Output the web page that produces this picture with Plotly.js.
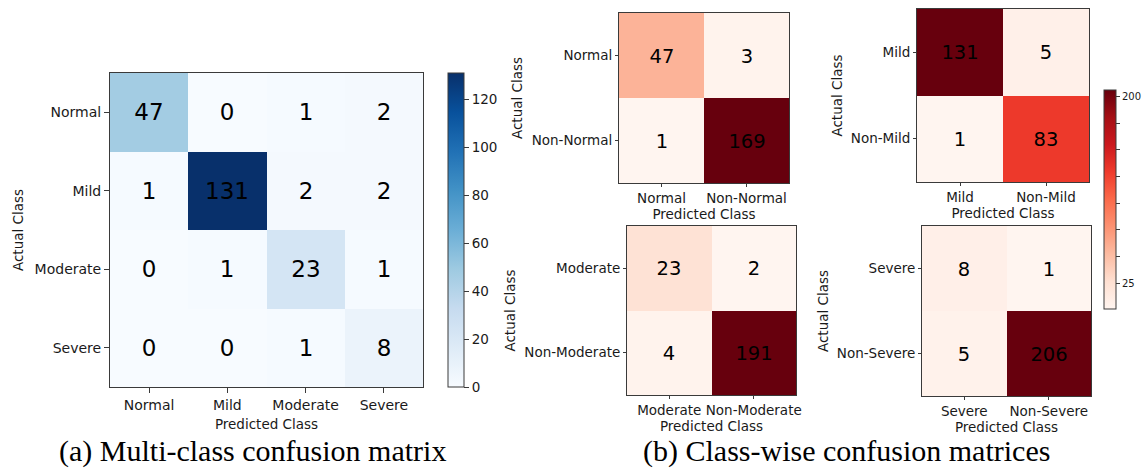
<!DOCTYPE html>
<html>
<head>
<meta charset="utf-8">
<script src="https://cdn.plot.ly/plotly-3.0.1.min.js"></script>
<style>
html,body{margin:0;padding:0;background:#fff;}
#chart{width:1142px;height:468px;}
</style>
</head>
<body>
<div id="chart"></div>
<script>
// ---- data ----
const categories = ['Normal', 'Mild', 'Moderate', 'Severe'];
const multiZ = [
  [47, 0, 1, 2],
  [1, 131, 2, 2],
  [0, 1, 23, 1],
  [0, 0, 1, 8]
];
const normalLabels = ['Normal', 'Non-Normal'];
const normalZ = [[47, 3], [1, 169]];
const mildLabels = ['Mild', 'Non-Mild'];
const mildZ = [[131, 5], [1, 83]];
const moderateLabels = ['Moderate', 'Non-Moderate'];
const moderateZ = [[23, 2], [4, 191]];
const severeLabels = ['Severe', 'Non-Severe'];
const severeZ = [[8, 1], [5, 206]];
const blueTickVals = [0, 20, 40, 60, 80, 100, 120];
const redTickVals = [25, 50, 75, 100, 125, 150, 175, 200];
const redTickText = ['25', '', '', '', '', '', '', '200'];
const xTitle = 'Predicted Class';
const yTitle = 'Actual Class';
const captionA = '(a) Multi-class confusion matrix';
const captionB = '(b) Class-wise confusion matrices';

// ---- styles ----
const W = 1142, H = 468;
const FONT = 'DejaVu Sans, sans-serif';
const TXT = '#1a1a1a';
const LINE = '#3a3a3a';
const blues = [
  [0, '#f7fbff'], [0.125, '#deebf7'], [0.25, '#c6dbef'], [0.375, '#9ecae1'],
  [0.5, '#6baed6'], [0.625, '#4292c6'], [0.75, '#2171b5'], [0.875, '#08519c'], [1, '#08306b']
];
const reds = [
  [0, '#fff5f0'], [0.125, '#fee0d2'], [0.25, '#fcbba1'], [0.375, '#fc9272'],
  [0.5, '#fb6a4a'], [0.625, '#ef3b2c'], [0.75, '#cb181d'], [0.875, '#a50f15'], [1, '#67000d']
];
function dx(a, b) { return [a / W, b / W]; }
function dy(top, bottom) { return [1 - bottom / H, 1 - top / H]; }
function flat(z) { return [].concat(...z); }

function axis(domain, tickSize, titleSize, isY, standoff, ticklen) {
  const a = {
    domain: domain,
    showline: true, mirror: true, linecolor: LINE, linewidth: 1,
    ticks: 'outside', ticklen: ticklen, tickwidth: 1, tickcolor: LINE,
    tickfont: {family: FONT, size: tickSize, color: TXT},
    title: {text: isY ? yTitle : xTitle, font: {family: FONT, size: titleSize, color: TXT}, standoff: standoff},
    showgrid: false, zeroline: false, fixedrange: true, type: 'category'
  };
  if (isY) a.autorange = 'reversed';
  return a;
}

const traces = [];
const layout = {
  width: W, height: H,
  margin: {l: 0, r: 0, t: 0, b: 0},
  paper_bgcolor: '#fff', plot_bgcolor: '#fff',
  showlegend: false,
  annotations: []
};

// left multi-class
traces.push({
  type: 'heatmap', x: categories, y: categories, z: multiZ,
  xaxis: 'x', yaxis: 'y',
  colorscale: blues, zmin: Math.min(...flat(multiZ)), zmax: Math.max(...flat(multiZ)),
  texttemplate: '%{z}', textfont: {family: FONT, size: 23, color: '#000'},
  hoverinfo: 'skip',
  colorbar: {
    x: 448 / W, xanchor: 'left', xref: 'paper',
    y: 1 - 73 / H, yanchor: 'top', yref: 'paper',
    len: 314 / H, lenmode: 'fraction', thickness: 16, thicknessmode: 'pixels',
    outlinewidth: 1, outlinecolor: LINE,
    ticks: 'outside', ticklen: 5, tickcolor: LINE, tickwidth: 1,
    tickvals: blueTickVals, tickfont: {family: FONT, size: 13.5, color: TXT},
    xpad: 0, ypad: 0
  }
});
layout.xaxis = axis(dx(110, 423), 14, 13.5, false, 7, 5);
layout.yaxis = axis(dy(73, 387), 14, 13.5, true, 7, 5);
layout.xaxis.anchor = 'y';
layout.yaxis.anchor = 'x';

// right class-wise
const small = [
  {lab: normalLabels, z: normalZ, xd: dx(619, 789), yd: dy(13, 183)},
  {lab: mildLabels, z: mildZ, xd: dx(917, 1089), yd: dy(9, 182)},
  {lab: moderateLabels, z: moderateZ, xd: dx(627, 796), yd: dy(226, 395)},
  {lab: severeLabels, z: severeZ, xd: dx(922, 1091), yd: dy(226, 396)}
];
small.forEach((s, i) => {
  const n = i + 2;
  const vals = flat(s.z);
  const t = {
    type: 'heatmap', x: s.lab, y: s.lab, z: s.z,
    xaxis: 'x' + n, yaxis: 'y' + n,
    colorscale: reds, zmin: Math.min(...vals), zmax: Math.max(...vals),
    texttemplate: '%{z}', textfont: {family: FONT, size: 19.5, color: '#000'},
    hoverinfo: 'skip', showscale: i === 3
  };
  if (i === 3) {
    t.colorbar = {
      x: 1104 / W, xanchor: 'left', xref: 'paper',
      y: 1 - 90 / H, yanchor: 'top', yref: 'paper',
      len: 219 / H, lenmode: 'fraction', thickness: 12, thicknessmode: 'pixels',
      outlinewidth: 1, outlinecolor: LINE,
      ticks: 'outside', ticklen: 4, tickcolor: LINE, tickwidth: 1,
      tickvals: redTickVals, ticktext: redTickText,
      tickfont: {family: FONT, size: 10, color: TXT},
      xpad: 0, ypad: 0
    };
  }
  traces.push(t);
  const xa = axis(s.xd, 13.5, 13.5, false, 1, 3);
  const ya = axis(s.yd, 13.5, 13.5, true, 5, 3);
  xa.anchor = 'y' + n; ya.anchor = 'x' + n;
  layout['xaxis' + n] = xa;
  layout['yaxis' + n] = ya;
});

const capFont = {family: 'Liberation Serif, Times New Roman, serif', size: 30, color: '#000'};
layout.annotations.push({
  text: captionA, xref: 'paper', yref: 'paper', x: 252 / W, y: 1 - 451 / H,
  xanchor: 'center', yanchor: 'middle', showarrow: false, font: capFont
});
layout.annotations.push({
  text: captionB, xref: 'paper', yref: 'paper', x: 846 / W, y: 1 - 451 / H,
  xanchor: 'center', yanchor: 'middle', showarrow: false, font: capFont
});

Plotly.newPlot('chart', traces, layout, {displayModeBar: false, staticPlot: true});
</script>
</body>
</html>
